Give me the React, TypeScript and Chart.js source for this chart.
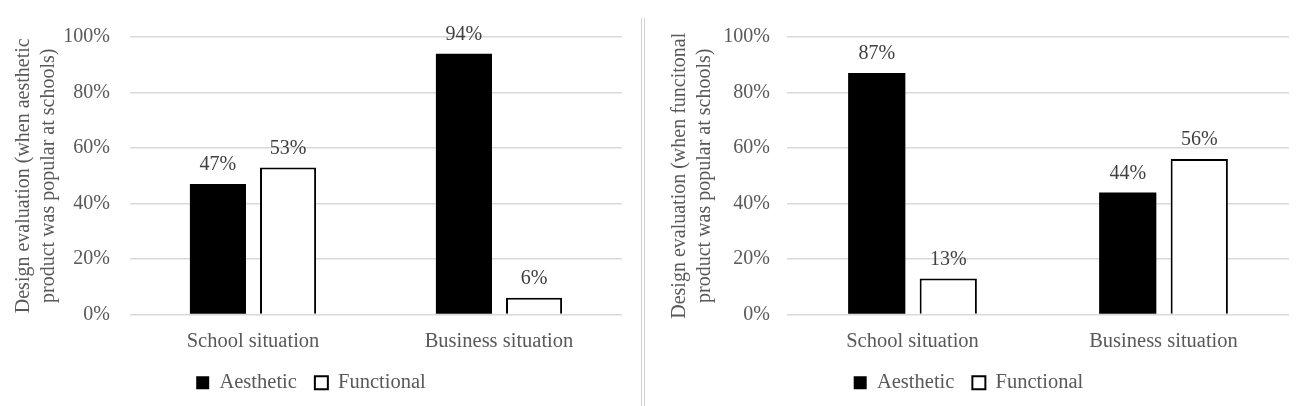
import { useEffect, useRef } from "react"
import { Chart, registerables } from "chart.js"
import type { Plugin } from "chart.js"

Chart.register(...registerables)

const categories = ["School situation", "Business situation"]
const seriesNames = ["Aesthetic", "Functional"]
const leftAesthetic = [47, 94]
const leftFunctional = [53, 6]
const rightAesthetic = [87, 44]
const rightFunctional = [13, 56]
const yTickValues = [0, 20, 40, 60, 80, 100]
const leftTitle = ["Design evaluation (when aesthetic", "product was popular at schools)"]
const rightTitle = ["Design evaluation (when funcitonal", "product was popular at schools)"]

const FONT = "'Liberation Serif', 'Times New Roman', serif"
const GREY = "#595959"

// draws the percentage above each bar
const valueLabels: Plugin<"bar"> = {
  id: "valueLabels",
  afterDatasetsDraw(chart) {
    const ctx = chart.ctx
    ctx.save()
    ctx.font = `20px ${FONT}`
    ctx.fillStyle = "#404040"
    ctx.textAlign = "center"
    ctx.textBaseline = "middle"
    chart.data.datasets.forEach((ds, i) => {
      chart.getDatasetMeta(i).data.forEach((bar, j) => {
        ctx.fillText(`${ds.data[j]}%`, bar.x, bar.y - 19)
      })
    })
    ctx.restore()
  },
}

interface PanelProps {
  aesthetic: number[]
  functional: number[]
  title: string[]
  axisWidth: number
  titlePad: number
  tickPad: number
  padRight: number
}

function Panel({ aesthetic, functional, title, axisWidth, titlePad, tickPad, padRight }: PanelProps) {
  const canvasRef = useRef<HTMLCanvasElement>(null)
  const chartRef = useRef<Chart | null>(null)

  useEffect(() => {
    if (!canvasRef.current) return
    if (chartRef.current) chartRef.current.destroy()

    chartRef.current = new Chart(canvasRef.current, {
      type: "bar",
      data: {
        labels: categories,
        datasets: [
          {
            label: seriesNames[0],
            data: aesthetic,
            backgroundColor: "#000000",
            borderColor: "#000000",
            borderWidth: 0,
          },
          {
            label: seriesNames[1],
            data: functional,
            backgroundColor: "#ffffff",
            borderColor: "#000000",
            borderWidth: 2,
          },
        ],
      },
      options: {
        animation: false,
        responsive: true,
        maintainAspectRatio: false,
        datasets: { bar: { categoryPercentage: 0.57, barPercentage: 0.8 } },
        layout: { padding: { top: 37, left: 0, right: padRight, bottom: 3 } },
        plugins: {
          tooltip: { enabled: false },
          legend: {
            position: "bottom",
            labels: {
              boxWidth: 13,
              boxHeight: 13,
              padding: 18,
              color: GREY,
              font: { family: FONT, size: 20.5 },
            },
          },
        },
        scales: {
          x: {
            grid: { display: false },
            border: { display: false },
            ticks: { color: GREY, font: { family: FONT, size: 20.5 }, padding: 7 },
            afterFit: (scale) => {
              scale.height = 40
            },
          },
          y: {
            min: 0,
            max: 100,
            afterBuildTicks: (scale) => {
              scale.ticks = yTickValues.map((v) => ({ value: v }))
            },
            afterFit: (scale) => {
              scale.width = axisWidth
            },
            grid: { color: "#d9d9d9", lineWidth: 1.5, drawTicks: false },
            border: { display: false },
            ticks: {
              color: GREY,
              font: { family: FONT, size: 20 },
              padding: tickPad,
              callback: (v) => `${v}%`,
            },
            title: {
              display: true,
              text: title,
              color: GREY,
              font: { family: FONT, size: 20, lineHeight: 1.25 },
              padding: { top: titlePad, bottom: 0 },
            },
          },
        },
      },
      plugins: [valueLabels],
    })

    return () => {
      if (chartRef.current) {
        chartRef.current.destroy()
        chartRef.current = null
      }
    }
  }, [aesthetic, functional, title, axisWidth, titlePad, tickPad, padRight])

  return <canvas ref={canvasRef} />
}

export default function App() {
  return (
    <div style={{ position: "absolute", left: 0, top: 0, width: 1297, height: 406, background: "#fff" }}>
      <div style={{ position: "absolute", left: 0, top: 0, width: 640, height: 406 }}>
        <Panel
          aesthetic={leftAesthetic}
          functional={leftFunctional}
          title={leftTitle}
          axisWidth={130}
          titlePad={11.5}
          tickPad={20}
          padRight={18}
        />
      </div>
      <div
        style={{
          position: "absolute",
          left: 641,
          top: 18,
          width: 2,
          height: 388,
          borderLeft: "1px solid #d0d0d0",
          borderRight: "1px solid #d0d0d0",
        }}
      />
      <div style={{ position: "absolute", left: 648, top: 0, width: 649, height: 406 }}>
        <Panel
          aesthetic={rightAesthetic}
          functional={rightFunctional}
          title={rightTitle}
          axisWidth={139}
          titlePad={19.5}
          tickPad={17}
          padRight={8}
        />
      </div>
    </div>
  )
}
